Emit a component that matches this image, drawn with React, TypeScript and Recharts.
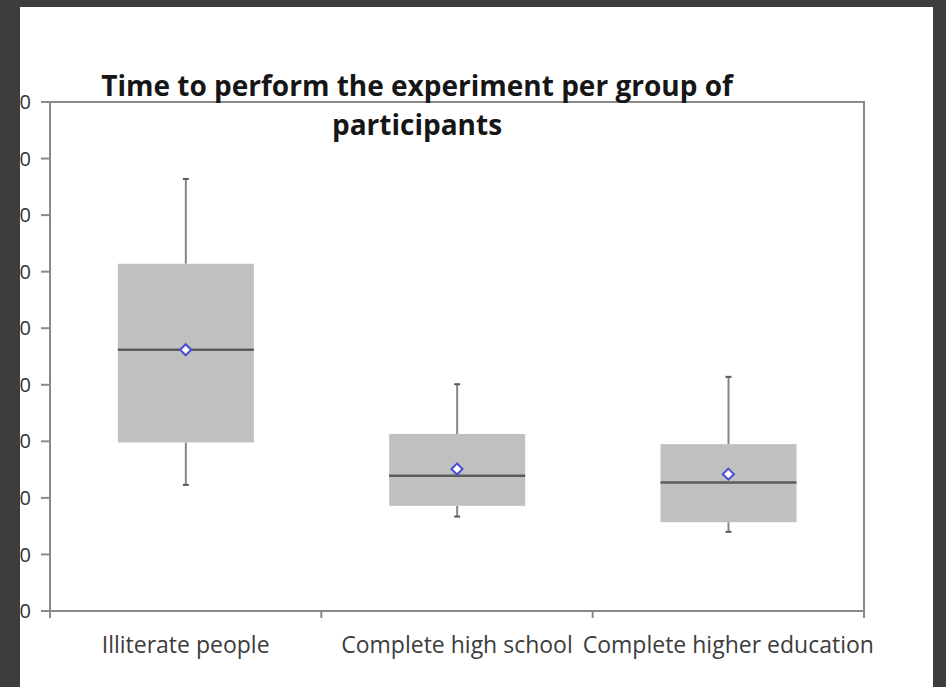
import { ComposedChart, Bar, Scatter, XAxis, YAxis, ReferenceArea } from "recharts"

// box plot summary per group (seconds)
const groups = ["Illiterate people", "Complete high school", "Complete higher education"]
const mins = [223, 167, 140]
const q1s = [298, 186, 157]
const medians = [462, 239, 227]
const q3s = [614, 313, 295]
const maxs = [764, 401, 414]
const means = [462, 251, 242]
const yTicks = [0, 100, 200, 300, 400, 500, 600, 700, 800, 900]

const data = groups.map((group, i) => ({
  group,
  min: mins[i],
  q1: q1s[i],
  median: medians[i],
  q3: q3s[i],
  max: maxs[i],
  mean: means[i],
}))

const AXIS = "#8a8a8a"
const FONT = "'Open Sans', sans-serif"

// whiskers + box + median, drawn inside the range bar [min, max]
function BoxShape(props: any) {
  const { x, y, width, height, payload } = props
  const { min, max, q1, q3, median } = payload
  const top = Math.min(y, y + height)
  const bottom = Math.max(y, y + height)
  const py = (v: number) => bottom - ((bottom - top) * (v - min)) / (max - min)
  const cx = x + width / 2
  return (
    <g>
      <line x1={cx} x2={cx} y1={py(max)} y2={py(q3)} stroke="#868686" strokeWidth={2} />
      <line x1={cx} x2={cx} y1={py(q1)} y2={py(min)} stroke="#868686" strokeWidth={2} />
      <line x1={cx - 3} x2={cx + 3} y1={py(max)} y2={py(max)} stroke="#5a5a5a" strokeWidth={2} />
      <line x1={cx - 3} x2={cx + 3} y1={py(min)} y2={py(min)} stroke="#5a5a5a" strokeWidth={2} />
      <rect x={x} y={py(q3)} width={width} height={py(q1) - py(q3)} fill="#c0c0c0" />
      <line x1={x} x2={x + width} y1={py(median)} y2={py(median)} stroke="#5c5c5c" strokeWidth={2.5} />
    </g>
  )
}

function MeanDiamond(props: any) {
  const { cx, cy } = props
  const r = 5.5
  return (
    <path
      d={`M${cx},${cy - r} L${cx + r},${cy} L${cx},${cy + r} L${cx - r},${cy} Z`}
      fill="#ffffff"
      stroke="#4a4ad8"
      strokeWidth={2}
    />
  )
}

// category label plus tick marks on the band boundaries
function CategoryTick(props: any) {
  const { x, y, payload, width, visibleTicksCount, index } = props
  const band = width / visibleTicksCount
  return (
    <g>
      <line x1={x - band / 2} x2={x - band / 2} y1={y} y2={y + 7} stroke={AXIS} strokeWidth={2} />
      {index === visibleTicksCount - 1 && (
        <line x1={x + band / 2} x2={x + band / 2} y1={y} y2={y + 7} stroke={AXIS} strokeWidth={2} />
      )}
      <text x={x} y={y + 42} textAnchor="middle" fill="#3c3c3c" fontSize={23} fontFamily={FONT}>
        {payload.value}
      </text>
    </g>
  )
}

export default function App() {
  return (
    <div style={{ position: "fixed", left: 0, top: 0, width: 946, height: 687, background: "#3d3d3d" }}>
      <div
        style={{
          position: "absolute",
          left: 20,
          top: 7,
          width: 913,
          height: 680,
          background: "#ffffff",
          overflow: "hidden",
        }}
      >
        <div style={{ position: "absolute", left: -20, top: -7 }}>
          <ComposedChart
            width={946}
            height={687}
            data={data}
            margin={{ top: 102, right: 82, bottom: 36, left: 10 }}
            barCategoryGap="25%"
          >
            <ReferenceArea y1={0} y2={900} fill="none" fillOpacity={0} stroke={AXIS} strokeWidth={2} />
            <XAxis
              dataKey="group"
              height={40}
              tickSize={0}
              tickMargin={0}
              tickLine={false}
              interval={0}
              axisLine={{ stroke: AXIS, strokeWidth: 2 }}
              tick={<CategoryTick />}
            />
            <YAxis
              domain={[0, 900]}
              ticks={yTicks}
              interval={0}
              width={40}
              tickSize={9}
              tickMargin={10}
              axisLine={{ stroke: AXIS, strokeWidth: 2 }}
              tickLine={{ stroke: AXIS, strokeWidth: 2 }}
              tick={{ fill: "#333333", fontSize: 20, fontFamily: FONT }}
            />
            <Bar dataKey={(d: any) => [d.min, d.max]} shape={<BoxShape />} isAnimationActive={false} />
            <Scatter dataKey="mean" shape={<MeanDiamond />} isAnimationActive={false} />
          </ComposedChart>
        </div>
        <div
          style={{
            position: "absolute",
            left: 0,
            top: 59,
            width: 794,
            textAlign: "center",
            fontFamily: FONT,
            fontWeight: 700,
            fontSize: 28,
            lineHeight: "39px",
            color: "#161616",
          }}
        >
          Time to perform the experiment per group of
          <br />
          participants
        </div>
      </div>
    </div>
  )
}
